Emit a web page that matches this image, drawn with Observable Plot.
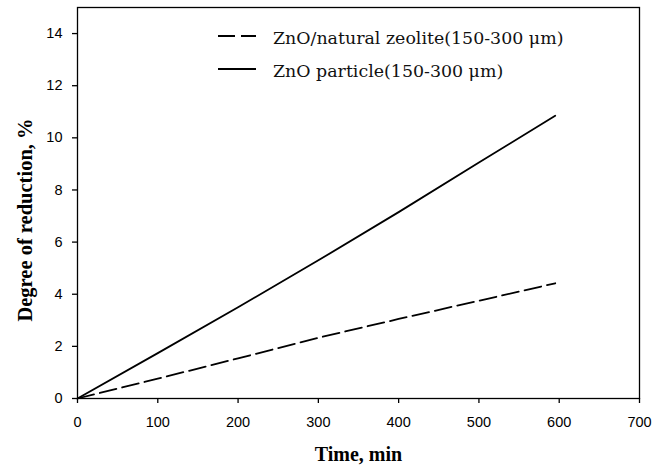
<!DOCTYPE html>
<html>
<head>
<meta charset="utf-8">
<script src="https://cdn.jsdelivr.net/npm/d3@7"></script>
<script src="https://cdn.jsdelivr.net/npm/@observablehq/plot@0.6"></script>
<style>
  html, body { margin: 0; padding: 0; background: #fff; }
</style>
</head>
<body>
<div id="chart"></div>
<script>
const time = [0, 100, 200, 300, 400, 500, 595];
const particle = [0, 1.74, 3.5, 5.3, 7.15, 9.05, 10.85];
const zeolite = [0, 0.76, 1.54, 2.33, 3.05, 3.75, 4.42];
const seriesNames = ["ZnO/natural zeolite(150-300 \u03bcm)", "ZnO particle(150-300 \u03bcm)"];
const xTicks = [0, 100, 200, 300, 400, 500, 600, 700];
const yTicks = [0, 2, 4, 6, 8, 10, 12, 14];
const xTitle = "Time, min";
const yTitle = "Degree of reduction, %";

const dash = "17,6";
const rows = [];
time.forEach((t, i) => {
  rows.push({t, v: zeolite[i], s: seriesNames[0]});
  rows.push({t, v: particle[i], s: seriesNames[1]});
});

function legendMark(index, scales, values, dims) {
  const g = d3.create("svg:g");
  const x0 = dims.marginLeft + 141, x1 = x0 + 38, tx = x0 + 55;
  seriesNames.forEach((name, i) => {
    const y = dims.marginTop + 29 + i * 33;
    g.append("line").attr("x1", x0).attr("x2", x1).attr("y1", y).attr("y2", y)
      .attr("stroke", "#000").attr("stroke-width", 1.8)
      .attr("stroke-dasharray", i === 0 ? dash : null);
    g.append("text").attr("x", tx).attr("y", y + 2).attr("dy", "0.35em")
      .attr("text-anchor", "start")
      .attr("font-family", "DejaVu Serif").attr("font-size", 17.4).attr("fill", "#111")
      .text(name);
  });
  return g.node();
}

const plot = Plot.plot({
  width: 666,
  height: 469,
  marginLeft: 77,
  marginRight: 27,
  marginTop: 7,
  marginBottom: 71,
  style: {fontFamily: "Liberation Sans, Arial, sans-serif", background: "#fff", color: "#000"},
  x: {domain: [0, 700]},
  y: {domain: [0, 15]},
  marks: [
    Plot.frame({stroke: "#000", strokeWidth: 1.3}),
    Plot.axisX({ticks: xTicks, tickSize: 5, tickPadding: 13, fontSize: 14.5, label: null, stroke: "#000", strokeWidth: 1.3, fill: "#000"}),
    Plot.axisY({ticks: yTicks, tickSize: 5, tickPadding: 10, fontSize: 14.5, label: null, stroke: "#000", strokeWidth: 1.3, fill: "#000"}),
    Plot.line(rows.filter(d => d.s === seriesNames[1]), {x: "t", y: "v", stroke: "#000", strokeWidth: 1.8}),
    Plot.line(rows.filter(d => d.s === seriesNames[0]), {x: "t", y: "v", stroke: "#000", strokeWidth: 1.8, strokeDasharray: dash}),
    Plot.text([xTitle], {text: d => d, frameAnchor: "bottom", textAnchor: "middle", lineAnchor: "middle", dy: 56, fontSize: 20, fontWeight: "bold", fontFamily: "Liberation Serif", fill: "#000"}),
    Plot.text([yTitle], {text: d => d, frameAnchor: "left", textAnchor: "middle", lineAnchor: "middle", rotate: -90, dx: -52, dy: 17, fontSize: 20.5, fontWeight: "bold", fontFamily: "Liberation Serif", fill: "#000"}),
    legendMark
  ]
});
document.getElementById("chart").appendChild(plot);
</script>
</body>
</html>
